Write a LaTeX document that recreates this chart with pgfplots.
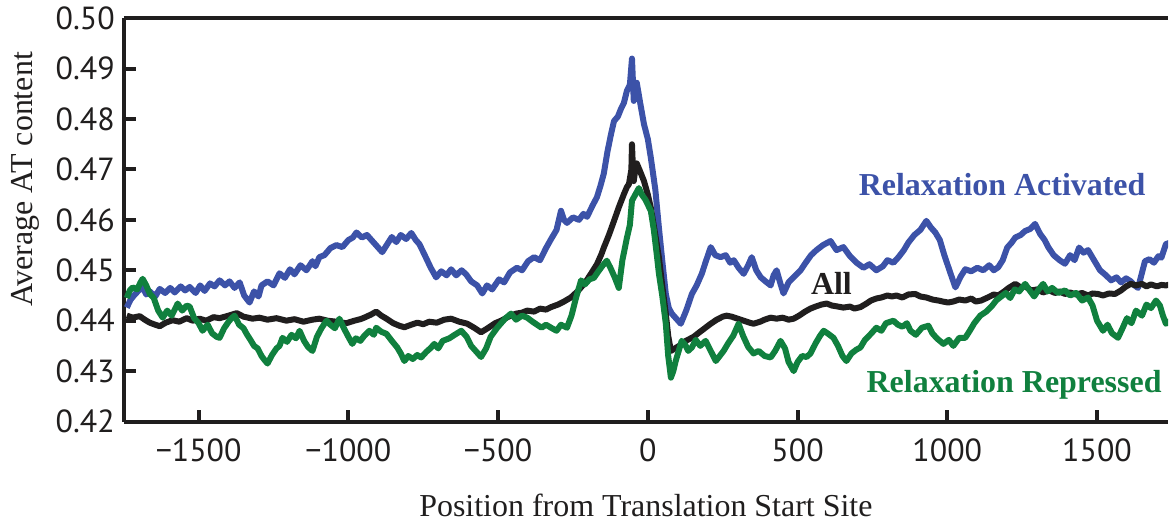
\documentclass[border=0pt]{standalone}
\usepackage{fontspec}
\setmainfont{Liberation Serif}
\newfontfamily\ticksf{PT Sans}
\usepackage{pgfplots}
\pgfplotsset{compat=1.18}
\usepackage{pgfplotstable}

\definecolor{actblue}{RGB}{60,82,168}
\definecolor{repgreen}{RGB}{16,128,62}
\definecolor{allblack}{RGB}{32,30,30}

% Average AT content around the translation start site
\pgfplotstableread{
x y
-1740 0.4426
-1727 0.4442
-1713 0.4452
-1700 0.4460
-1687 0.4466
-1675 0.4452
-1663 0.4458
-1645 0.4448
-1630 0.4463
-1612 0.4455
-1595 0.4465
-1580 0.4456
-1560 0.4468
-1545 0.4460
-1530 0.4467
-1510 0.4455
-1495 0.4470
-1480 0.4459
-1462 0.4474
-1447 0.4468
-1430 0.4480
-1412 0.4470
-1397 0.4478
-1380 0.4465
-1363 0.4476
-1348 0.4450
-1330 0.4436
-1315 0.4458
-1300 0.4448
-1290 0.4470
-1270 0.4478
-1250 0.4470
-1230 0.4494
-1212 0.4485
-1195 0.4502
-1180 0.4492
-1160 0.4510
-1140 0.4500
-1120 0.4518
-1110 0.4508
-1097 0.4526
-1080 0.4530
-1060 0.4544
-1040 0.4550
-1020 0.4546
-1000 0.4560
-985 0.4565
-973 0.4575
-955 0.4565
-938 0.4570
-920 0.4558
-905 0.4548
-887 0.4536
-870 0.4552
-855 0.4566
-840 0.4556
-825 0.4570
-807 0.4562
-790 0.4574
-775 0.4560
-763 0.4552
-745 0.4530
-725 0.4505
-707 0.4486
-690 0.4498
-672 0.4490
-657 0.4502
-640 0.4490
-622 0.4500
-607 0.4492
-590 0.4478
-570 0.4470
-553 0.4454
-537 0.4470
-520 0.4462
-497 0.4482
-480 0.4476
-460 0.4496
-437 0.4505
-420 0.4500
-400 0.4518
-380 0.4526
-360 0.4520
-340 0.4544
-323 0.4562
-305 0.4580
-290 0.4618
-280 0.4600
-270 0.4594
-250 0.4605
-230 0.4600
-215 0.4612
-203 0.4606
-185 0.4628
-170 0.4645
-158 0.4668
-147 0.4692
-135 0.4735
-123 0.4770
-113 0.4796
-100 0.4805
-90 0.4820
-80 0.4832
-70 0.4856
-60 0.4868
-53 0.4920
-47 0.4836
-37 0.4872
-25 0.4830
-13 0.4790
0 0.4760
10 0.4723
25 0.4660
37 0.4584
48 0.4520
60 0.4453
70 0.4425
80 0.4414
95 0.4404
110 0.4394
128 0.4420
147 0.4453
163 0.4470
180 0.4493
195 0.4520
210 0.4546
225 0.4530
243 0.4526
260 0.4530
275 0.4515
287 0.4520
303 0.4505
320 0.4493
335 0.4510
347 0.4526
362 0.4500
377 0.4486
393 0.4478
410 0.4470
420 0.4490
430 0.4500
442 0.4475
453 0.4454
470 0.4476
490 0.4488
510 0.4500
527 0.4515
545 0.4530
563 0.4540
585 0.4550
610 0.4558
630 0.4540
653 0.4546
675 0.4528
697 0.4515
720 0.4505
740 0.4512
763 0.4500
785 0.4508
800 0.4520
820 0.4515
837 0.4526
855 0.4540
870 0.4555
890 0.4570
910 0.4580
930 0.4598
945 0.4585
960 0.4575
975 0.4560
990 0.4530
1010 0.4495
1027 0.4466
1045 0.4488
1060 0.4502
1080 0.4498
1100 0.4505
1120 0.4500
1140 0.4510
1155 0.4500
1170 0.4506
1185 0.4520
1200 0.4545
1215 0.4555
1227 0.4565
1245 0.4570
1260 0.4578
1277 0.4582
1293 0.4592
1310 0.4572
1325 0.4560
1337 0.4546
1355 0.4530
1375 0.4520
1393 0.4513
1410 0.4530
1425 0.4520
1440 0.4545
1455 0.4535
1470 0.4540
1490 0.4520
1510 0.4500
1530 0.4490
1547 0.4480
1565 0.4486
1580 0.4476
1597 0.4484
1613 0.4478
1625 0.4470
1637 0.4465
1650 0.4495
1660 0.4518
1675 0.4522
1690 0.4515
1705 0.4528
1715 0.4525
1730 0.4552
1745 0.4555
}\activated

\pgfplotstableread{
x y
-1740 0.4410
-1720 0.4406
-1697 0.4409
-1680 0.4402
-1663 0.4396
-1645 0.4392
-1630 0.4389
-1610 0.4396
-1587 0.4401
-1565 0.4398
-1540 0.4405
-1520 0.4400
-1497 0.4404
-1475 0.4400
-1450 0.4407
-1430 0.4405
-1400 0.4410
-1373 0.4415
-1350 0.4408
-1320 0.4404
-1297 0.4406
-1270 0.4402
-1240 0.4405
-1207 0.4400
-1180 0.4403
-1150 0.4398
-1120 0.4402
-1097 0.4404
-1070 0.4400
-1040 0.4398
-1007 0.4395
-980 0.4400
-960 0.4403
-947 0.4406
-925 0.4412
-907 0.4418
-890 0.4410
-873 0.4404
-850 0.4395
-830 0.4390
-813 0.4387
-790 0.4392
-770 0.4396
-750 0.4393
-730 0.4398
-705 0.4396
-680 0.4402
-657 0.4404
-630 0.4398
-603 0.4394
-580 0.4386
-557 0.4377
-535 0.4385
-510 0.4395
-490 0.4400
-465 0.4408
-440 0.4414
-420 0.4416
-403 0.4420
-380 0.4418
-360 0.4424
-340 0.4422
-323 0.4427
-300 0.4432
-280 0.4438
-257 0.4446
-235 0.4458
-210 0.4475
-190 0.4493
-170 0.4512
-155 0.4532
-147 0.4545
-130 0.4570
-113 0.4598
-97 0.4625
-80 0.4651
-70 0.4665
-63 0.4671
-55 0.4700
-53 0.4750
-49 0.4690
-47 0.4677
-42 0.4700
-37 0.4712
-25 0.4695
-13 0.4677
0 0.4650
10 0.4624
25 0.4570
37 0.4525
48 0.4470
60 0.4414
68 0.4370
77 0.4340
93 0.4346
110 0.4352
127 0.4360
140 0.4364
153 0.4368
170 0.4376
190 0.4385
210 0.4394
230 0.4402
250 0.4408
263 0.4410
280 0.4408
300 0.4404
320 0.4400
340 0.4396
353 0.4394
375 0.4398
390 0.4402
410 0.4406
430 0.4404
450 0.4406
470 0.4402
487 0.4404
505 0.4410
525 0.4418
543 0.4424
560 0.4428
580 0.4432
597 0.4434
615 0.4430
635 0.4428
653 0.4426
675 0.4428
690 0.4424
710 0.4427
730 0.4434
745 0.4440
763 0.4444
780 0.4446
800 0.4450
815 0.4448
830 0.4450
850 0.4446
870 0.4452
893 0.4453
910 0.4448
930 0.4446
950 0.4442
970 0.4440
985 0.4438
1003 0.4436
1020 0.4438
1040 0.4442
1060 0.4440
1080 0.4444
1095 0.4438
1113 0.4440
1135 0.4446
1155 0.4452
1170 0.4450
1190 0.4458
1205 0.4465
1227 0.4473
1245 0.4466
1260 0.4468
1280 0.4460
1300 0.4462
1320 0.4456
1340 0.4460
1360 0.4455
1375 0.4458
1393 0.4453
1410 0.4456
1430 0.4452
1450 0.4455
1470 0.4450
1485 0.4454
1503 0.4453
1520 0.4450
1540 0.4454
1560 0.4453
1580 0.4460
1597 0.4468
1613 0.4473
1630 0.4470
1650 0.4473
1665 0.4468
1680 0.4472
1700 0.4468
1715 0.4471
1730 0.4470
1745 0.4472
}\allgenes

\pgfplotstableread{
x y
-1740 0.4445
-1730 0.4460
-1720 0.4466
-1705 0.4462
-1695 0.4475
-1687 0.4483
-1675 0.4470
-1663 0.4453
-1650 0.4445
-1635 0.4420
-1620 0.4406
-1605 0.4420
-1590 0.4410
-1570 0.4434
-1555 0.4420
-1540 0.4430
-1530 0.4428
-1515 0.4405
-1500 0.4395
-1487 0.4380
-1470 0.4392
-1455 0.4375
-1440 0.4368
-1430 0.4366
-1415 0.4385
-1400 0.4398
-1390 0.4405
-1380 0.4410
-1365 0.4392
-1350 0.4385
-1340 0.4374
-1325 0.4360
-1315 0.4350
-1303 0.4345
-1290 0.4330
-1280 0.4322
-1270 0.4315
-1255 0.4332
-1240 0.4345
-1230 0.4350
-1220 0.4366
-1205 0.4358
-1190 0.4372
-1175 0.4365
-1163 0.4380
-1148 0.4360
-1135 0.4348
-1120 0.4340
-1105 0.4368
-1090 0.4385
-1073 0.4400
-1060 0.4392
-1045 0.4385
-1030 0.4404
-1015 0.4385
-1000 0.4368
-987 0.4354
-975 0.4365
-960 0.4360
-947 0.4370
-930 0.4380
-915 0.4372
-907 0.4386
-890 0.4378
-873 0.4374
-855 0.4360
-837 0.4347
-825 0.4335
-813 0.4320
-800 0.4330
-785 0.4324
-770 0.4332
-757 0.4327
-740 0.4338
-725 0.4346
-713 0.4354
-700 0.4345
-685 0.4360
-663 0.4365
-645 0.4372
-623 0.4380
-605 0.4368
-590 0.4350
-575 0.4340
-557 0.4328
-540 0.4345
-525 0.4368
-503 0.4386
-490 0.4395
-475 0.4405
-457 0.4414
-440 0.4402
-420 0.4410
-403 0.4406
-385 0.4398
-370 0.4392
-355 0.4386
-340 0.4392
-323 0.4386
-305 0.4380
-290 0.4392
-270 0.4386
-255 0.4410
-240 0.4445
-223 0.4480
-210 0.4472
-195 0.4482
-180 0.4485
-165 0.4498
-150 0.4510
-137 0.4519
-125 0.4505
-110 0.4485
-97 0.4465
-85 0.4520
-70 0.4564
-60 0.4590
-53 0.4638
-42 0.4650
-30 0.4663
-20 0.4650
-8 0.4640
0 0.4630
10 0.4618
20 0.4580
30 0.4530
37 0.4493
48 0.4450
60 0.4394
68 0.4330
77 0.4287
85 0.4300
93 0.4320
103 0.4340
113 0.4360
125 0.4352
135 0.4340
147 0.4347
160 0.4362
175 0.4350
193 0.4360
210 0.4340
227 0.4320
240 0.4330
253 0.4340
268 0.4355
285 0.4370
303 0.4394
318 0.4370
335 0.4348
353 0.4335
370 0.4340
390 0.4330
410 0.4327
425 0.4340
443 0.4360
458 0.4345
470 0.4318
487 0.4300
500 0.4318
515 0.4330
530 0.4328
543 0.4335
560 0.4355
575 0.4370
587 0.4380
600 0.4375
620 0.4366
635 0.4350
650 0.4330
663 0.4320
680 0.4335
695 0.4342
710 0.4347
725 0.4362
745 0.4374
763 0.4386
780 0.4380
795 0.4395
820 0.4400
835 0.4392
850 0.4388
865 0.4395
877 0.4380
895 0.4372
915 0.4386
937 0.4390
950 0.4375
965 0.4365
987 0.4354
1005 0.4362
1020 0.4350
1040 0.4366
1060 0.4366
1075 0.4380
1090 0.4395
1110 0.4410
1130 0.4418
1150 0.4430
1163 0.4440
1180 0.4448
1195 0.4455
1210 0.4445
1225 0.4462
1240 0.4458
1260 0.4473
1275 0.4460
1290 0.4448
1305 0.4462
1320 0.4473
1335 0.4458
1350 0.4465
1370 0.4455
1393 0.4460
1410 0.4450
1430 0.4455
1450 0.4440
1470 0.4446
1485 0.4430
1500 0.4400
1520 0.4380
1535 0.4392
1550 0.4375
1570 0.4366
1585 0.4385
1600 0.4405
1615 0.4395
1630 0.4420
1650 0.4410
1665 0.4432
1680 0.4425
1697 0.4440
1710 0.4430
1720 0.4410
1730 0.4394
1745 0.4400
}\repressed

\begin{document}
\begin{tikzpicture}
\begin{axis}[
  scale only axis,
  width=523pt, height=202pt,
  xmin=-1750, xmax=1737,
  ymin=0.42, ymax=0.50,
  axis x line=box, axis y line=left,
  x axis line style={-}, y axis line style={-},
  axis line style={line width=2pt, draw=allblack},
  xtick={-1500,-1000,-500,0,500,1000,1500},
  xticklabels={−1500,−1000,−500,0,500,1000,1500},
  ytick={0.42,0.43,0.44,0.45,0.46,0.47,0.48,0.49,0.50},
  yticklabels={0.42,0.43,0.44,0.45,0.46,0.47,0.48,0.49,0.50},
  xtick pos=lower, ytick pos=left,
  tick align=inside,
  major tick length=6pt,
  tick style={line width=2pt, draw=allblack},
  tick label style={font=\ticksf\fontsize{16}{18}\selectfont, text=allblack},
  xticklabel style={yshift=-5pt},
  yticklabel style={xshift=-1pt},
  xlabel={Position from Translation Start Site},
  ylabel={Average AT content},
  label style={font=\fontsize{16}{18}\selectfont, text=allblack},
  xlabel style={at={(rel axis cs:0.5,0)}, anchor=center, yshift=-42pt},
  ylabel style={at={(rel axis cs:-0.0946,0.6)}, anchor=center},
  clip=true,
  every axis plot/.append style={line width=3pt, line join=round, mark=none},
]
\coordinate (sw) at (rel axis cs:0,0);
\addplot[actblue] table[x=x, y=y] {\activated};
\addplot[allblack] table[x=x, y=y] {\allgenes};
\addplot[repgreen] table[x=x, y=y] {\repressed};
\node[font=\bfseries\fontsize{16}{18}\selectfont, text=actblue] at (axis cs:1183,0.4671) {Relaxation Activated};
\node[font=\bfseries\fontsize{16}{18}\selectfont, text=allblack] at (axis cs:613,0.4473) {All};
\node[font=\bfseries\fontsize{16}{18}\selectfont, text=repgreen] at (axis cs:1223,0.4273) {Relaxation Repressed};
\end{axis}
\path (sw) ++(-62pt,-51pt) rectangle ++(585pt,261.5pt);
\end{tikzpicture}
\end{document}
